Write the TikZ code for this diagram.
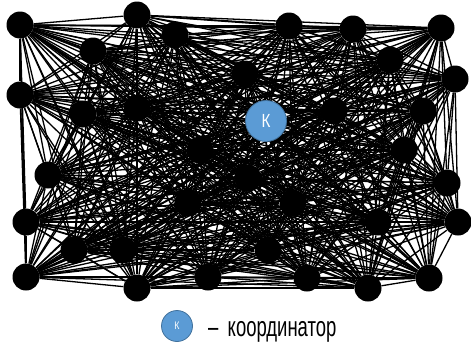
\documentclass[tikz,border=0pt]{standalone}
\usepackage{fontspec}
\setmainfont{Liberation Sans}
\usetikzlibrary{backgrounds}
\definecolor{kfill}{HTML}{5B9BD5}
\definecolor{kline}{HTML}{41719C}
\tikzset{
  dot/.style={circle, fill=black, draw=none, minimum size=27pt, inner sep=0pt},
  coordnode/.style={circle, fill=kfill, draw=kline, line width=0.8pt, inner sep=0pt,
    text=white, font=\fontsize{19}{19}\selectfont},
  edge/.style={line width=1.3pt, black},
  legendtext/.style={font=\fontsize{28}{28}\selectfont, inner sep=0pt, anchor=base west}
}
\begin{document}
\begin{tikzpicture}[x=1pt, y=-1pt]
\useasboundingbox (0,0) rectangle (471,343);
% ordinary members of the network
\foreach \i/\x/\y in {1/20/25, 2/137/15, 3/175/35, 4/93/51, 5/289/26, 6/353/29,
    7/441/28, 8/390/60, 9/20/95, 10/83/114, 11/137/108, 12/245/74,
    14/334/111, 15/423/111, 16/455/79, 17/48/175, 18/200/150, 19/248/178,
    20/404/150, 21/447/183, 22/26/222, 23/188/203, 24/293/203, 25/378/222,
    26/458/222, 27/74/250, 28/123/250, 29/268/250, 30/26/277, 31/137/288,
    32/208/277, 33/307/278, 34/368/288, 35/429/278}
  \node[dot] (n\i) at (\x,\y) {};
% the coordinator
\node[coordnode, minimum size=41pt] (n13) at (266,121) {\scalebox{0.8}[1]{К}};
% every pair of members is linked
\begin{pgfonlayer}{background}
  \foreach \i in {1,...,34}{
    \pgfmathtruncatemacro\nx{\i+1}
    \foreach \j in {\nx,...,35}{
      \draw[edge] (n\i) -- (n\j);
    }
  }
\end{pgfonlayer}
% legend
\node[coordnode, minimum size=31pt, font=\fontsize{11}{11}\selectfont] (legk) at (177,326) {\scalebox{0.8}[1]{К}};
\node[legendtext] (legt) at (208,336) {\scalebox{0.66}[1]{–\hspace{0.5em}координатор}};
\end{tikzpicture}
\end{document}
